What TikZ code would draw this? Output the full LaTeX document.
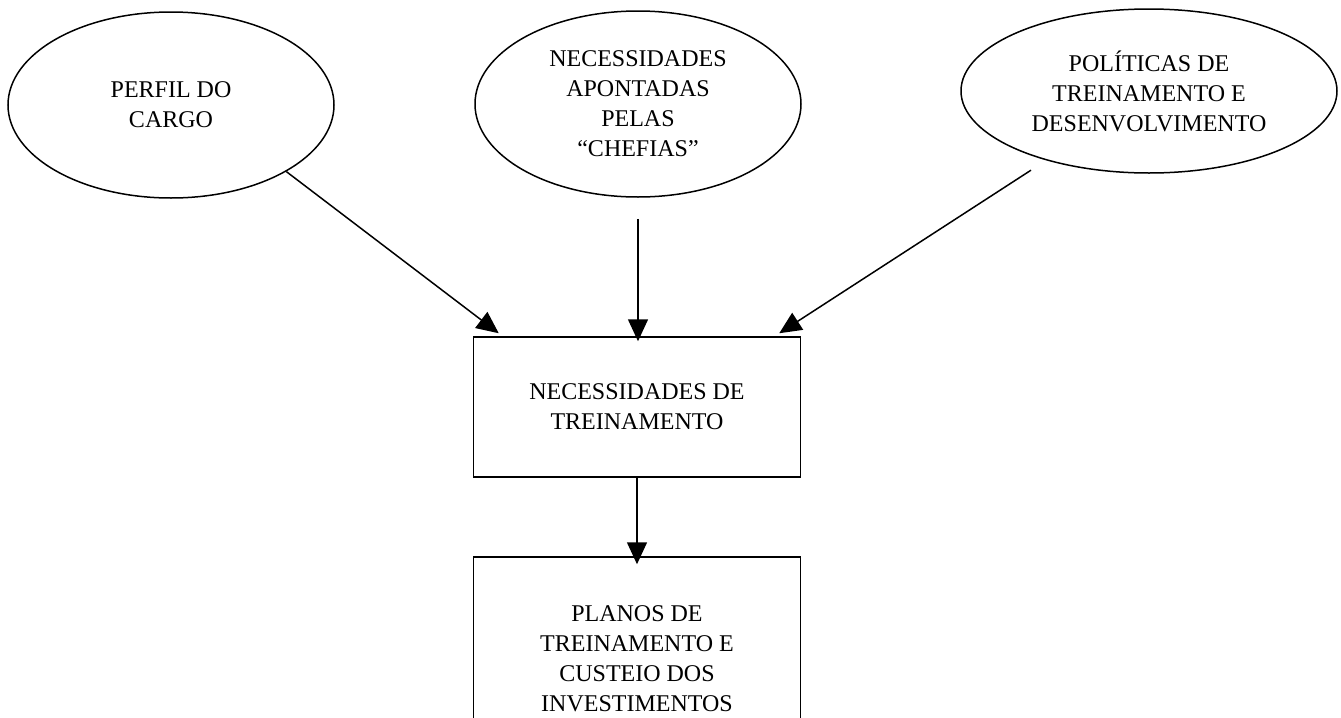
\documentclass[tikz,border=0pt]{standalone}
\usepackage{fontspec}
\setmainfont{Liberation Serif}
\usetikzlibrary{calc,arrows.meta,shapes.geometric}
\begin{document}
\begin{tikzpicture}[x=0.5pt,y=-0.5pt,
  oval/.style={draw,ellipse,line width=0.75pt,inner sep=0pt,align=center,
    font=\fontsize{12}{15}\selectfont},
  caixa/.style={draw,rectangle,line width=0.75pt,inner sep=0pt,align=center,
    minimum width=163.5pt,font=\fontsize{12}{15}\selectfont},
  seta/.style={line width=0.75pt,-{Triangle[length=11pt,width=10pt]}}]
  \useasboundingbox (0,0) rectangle (1341,718);
  \clip (0,0) rectangle (1341,718);
  \node[oval,minimum width=163pt,minimum height=93pt] (perfil) at (171,105)
    {PERFIL DO\\CARGO};
  \node[oval,minimum width=163pt,minimum height=93pt] (apont) at (638,104)
    {NECESSIDADES\\APONTADAS\\PELAS\\“CHEFIAS”};
  \node[oval,minimum width=188pt,minimum height=82pt] (polit) at (1149,91)
    {POLÍTICAS DE\\TREINAMENTO E\\DESENVOLVIMENTO};
  \node[caixa,minimum height=70pt] (necbox) at (637,407)
    {NECESSIDADES DE\\TREINAMENTO};
  \node[caixa,minimum height=101.5pt] (planos) at (637,658.5)
    {PLANOS DE\\TREINAMENTO E\\CUSTEIO DOS\\INVESTIMENTOS};
  \draw[seta] (perfil.-30) -- ($(necbox.north west)+(26,-3)$);
  \draw[seta,shorten <=10.5pt,shorten >=-2.5pt] (apont.south) -- (apont.south |- necbox.north);
  \draw[seta,shorten <=9pt] (polit.214) -- ($(necbox.north east)+(-22,-3)$);
  \draw[seta,shorten >=-4pt] (necbox.south) -- (planos.north);
\end{tikzpicture}
\end{document}
